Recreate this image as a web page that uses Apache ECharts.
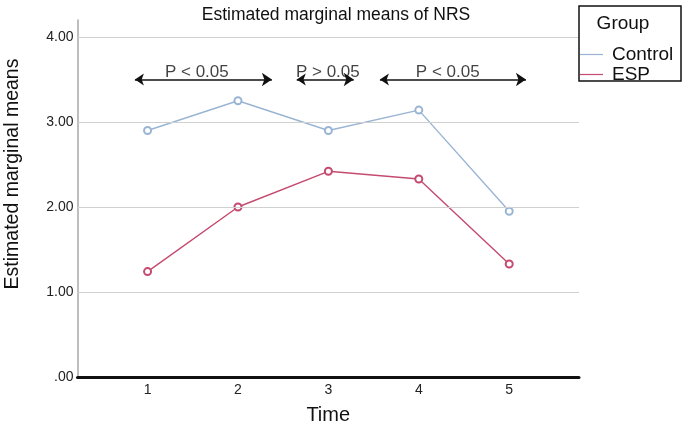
<!DOCTYPE html>
<html>
<head>
<meta charset="utf-8">
<script src="https://cdn.jsdelivr.net/npm/echarts@6/dist/echarts.min.js"></script>
<style>html,body{margin:0;padding:0;background:#fff}#c{width:682px;height:427px}</style>
</head>
<body>
<div id="c"></div>
<script>
var times = [1, 2, 3, 4, 5];
var controlValues = [2.90, 3.25, 2.90, 3.14, 1.95];
var espValues = [1.24, 2.00, 2.42, 2.33, 1.33];
var yTicks = [0, 1, 2, 3, 4];
var arrowSpans = [[0.86, 2.375], [2.65, 3.28], [3.57, 5.185]];
var arrowLevel = 3.5;
var pLabels = ['P < 0.05', 'P > 0.05', 'P < 0.05'];
var pLabelX = [1.545, 2.994, 4.32];
var pLabelLevel = 3.59;

var font = 'Liberation Sans, Arial, sans-serif';
function pairs(xs, ys) { return xs.map(function (x, i) { return [x, ys[i]]; }); }

var chart = echarts.init(document.getElementById('c'));
chart.setOption({
  animation: false,
  title: {
    text: 'Estimated marginal means of NRS',
    left: 331, top: 1, textAlign: 'center',
    textStyle: { fontFamily: font, fontSize: 17.5, fontWeight: 'normal', color: '#111' }
  },
  grid: { left: 77.5, right: 103, top: 20, bottom: 50, outerBoundsMode: 'none', containLabel: false },
  xAxis: {
    type: 'value', min: 0.225, max: 5.772,
    name: 'Time', nameLocation: 'middle', nameGap: 28,
    nameTextStyle: { fontFamily: font, fontSize: 20, color: '#111' },
    axisLine: { show: true, onZero: false, lineStyle: { color: '#111', width: 3 } },
    axisTick: { show: false },
    splitLine: { show: false },
    axisLabel: { customValues: times, fontFamily: font, fontSize: 14, color: '#222', margin: 6 }
  },
  yAxis: {
    type: 'value', min: 0, max: 4.2,
    axisLine: { show: true, lineStyle: { color: '#a8a8a8', width: 1.5 } },
    axisTick: { show: false },
    splitLine: { show: false },
    axisLabel: {
      customValues: yTicks, fontFamily: font, fontSize: 14, color: '#222', margin: 4,
      formatter: function (v) { return v === 0 ? '.00' : v.toFixed(2); }
    }
  },
  legend: {
    left: 580, top: 45, orient: 'vertical', itemGap: 1,
    itemWidth: 23, itemHeight: 14, padding: 0,
    data: [
      { name: 'Control', icon: 'path://M0,0H23V1.2H0Z' },
      { name: 'ESP', icon: 'path://M0,0H23V1.2H0Z' }
    ],
    textStyle: { fontFamily: font, fontSize: 19, color: '#111', lineHeight: 14, padding: [0, 0, 0, 4] }
  },
  graphic: [
    { type: 'rect', shape: { x: 579, y: 6, width: 102, height: 75 },
      style: { fill: 'none', stroke: '#111', lineWidth: 1.5 }, z: 10 },
    { type: 'text', x: 623, y: 24, style: { text: 'Group', font: '19px ' + font, fill: '#111',
      textAlign: 'center', textVerticalAlign: 'middle' }, z: 10 },
    { type: 'text', x: 13, y: 174, rotation: Math.PI / 2,
      style: { text: 'Estimated marginal means', font: '19.5px ' + font, fill: '#111',
      textAlign: 'center', textVerticalAlign: 'middle' }, z: 10 }
  ],
  series: [
    {
      name: 'Control', type: 'line', data: pairs(times, controlValues),
      symbol: 'emptyCircle', symbolSize: 7, color: '#9ab5d3',
      lineStyle: { width: 1.4, color: '#9ab5d3' },
      itemStyle: { color: '#9ab5d3', borderWidth: 1.2 },
      markLine: {
        silent: true, symbol: 'none', label: { show: false },
        lineStyle: { color: '#d0d0d0', width: 1.2, type: 'solid' },
        data: yTicks.filter(function (v) { return v > 0; }).map(function (v) { return { yAxis: v }; })
      },
      z: 3
    },
    {
      name: 'ESP', type: 'line', data: pairs(times, espValues),
      symbol: 'emptyCircle', symbolSize: 7, color: '#c44a6f',
      lineStyle: { width: 1.4, color: '#c44a6f' },
      itemStyle: { color: '#c44a6f', borderWidth: 1.2 },
      z: 3
    },
    {
      type: 'lines', coordinateSystem: 'cartesian2d', silent: true,
      symbol: ['arrow', 'arrow'], symbolSize: [9, 10],
      lineStyle: { color: '#111', width: 1.6, opacity: 1 },
      data: arrowSpans.map(function (s) { return { coords: [[s[0], arrowLevel], [s[1], arrowLevel]] }; }),
      z: 4
    },
    {
      type: 'scatter', symbolSize: 0, silent: true,
      data: pLabelX.map(function (x, i) { return { value: [x, pLabelLevel], name: pLabels[i] }; }),
      label: { show: true, position: 'inside', formatter: '{b}',
        fontFamily: font, fontSize: 17, color: '#111' },
      z: 5
    }
  ]
});
</script>
</body>
</html>
